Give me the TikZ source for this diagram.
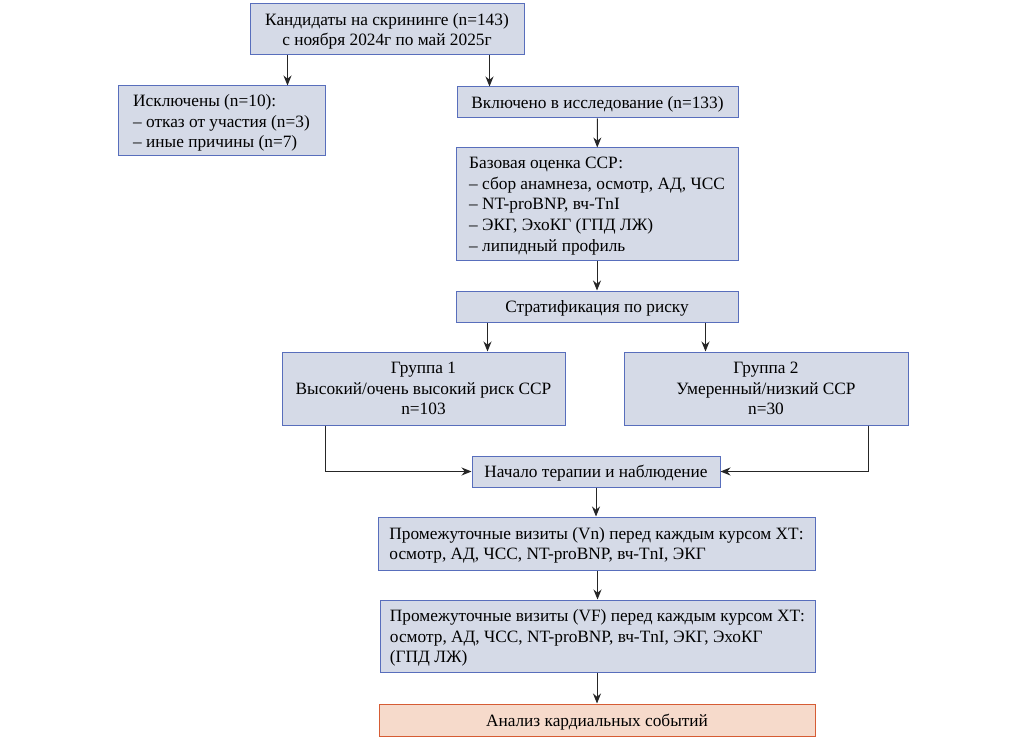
\documentclass[tikz,border=0pt]{standalone}
\usepackage{fontspec}
\setmainfont{Liberation Serif}
\usetikzlibrary{arrows.meta}
\definecolor{boxfill}{RGB}{213,218,231}
\definecolor{boxline}{RGB}{88,110,188}
\definecolor{endfill}{RGB}{246,218,203}
\definecolor{endline}{RGB}{214,92,52}
\begin{document}
\begin{tikzpicture}[x=1pt,y=-1pt,
    every node/.style={font=\fontsize{17.3}{20.7}\selectfont},
    stage/.style={draw=boxline,fill=boxfill,line width=1pt,inner xsep=6pt,inner ysep=0pt,text depth=0pt},
    last/.style={draw=endline,fill=endfill,line width=1pt,inner xsep=6pt,inner ysep=0pt,text depth=0pt},
    arr/.style={-{Stealth[length=10pt,width=8pt]},line width=0.9pt,black!85}]
  \useasboundingbox (0,0) rectangle (1029,741);
  % boxes
  \node[stage,minimum width=274,minimum height=51,align=center] (top) at (387,29.5)
    {Кандидаты на скрининге (n=143)\\с ноября 2024г по май 2025г};
  \node[stage,minimum width=207,minimum height=70,align=left] (excl) at (221.5,121)
    {Исключены (n=10):\\– отказ от участия (n=3)\\– иные причины (n=7)};
  \node[stage,minimum width=281,minimum height=31] (incl) at (597.5,102.5)
    {Включено в исследование (n=133)};
  \node[stage,minimum width=282,minimum height=112,align=left] (base) at (597,204)
    {Базовая оценка ССР:\\– сбор анамнеза, осмотр, АД, ЧСС\\– NT-proBNP, вч-TnI\\– ЭКГ, ЭхоКГ (ГПД ЛЖ)\\– липидный профиль};
  \node[stage,minimum width=282,minimum height=31] (strat) at (597,306.5)
    {Стратификация по риску};
  \node[stage,minimum width=283,minimum height=73,align=center] (g1) at (423.5,388.5)
    {Группа 1\\Высокий/очень высокий риск ССР\\n=103};
  \node[stage,minimum width=284,minimum height=73,align=center] (g2) at (766,388.5)
    {Группа 2\\Умеренный/низкий ССР\\n=30};
  \node[stage,minimum width=248,minimum height=31] (start) at (596,471.5)
    {Начало терапии и наблюдение};
  \node[stage,minimum width=437,minimum height=53,align=left] (vn) at (596.5,543.5)
    {Промежуточные визиты (Vn) перед каждым курсом ХТ:\\осмотр, АД, ЧСС, NT-proBNP, вч-TnI, ЭКГ};
  \node[stage,minimum width=435,minimum height=72,align=left] (vf) at (597.5,636)
    {Промежуточные визиты (VF) перед каждым курсом ХТ:\\осмотр, АД, ЧСС, NT-proBNP, вч-TnI, ЭКГ, ЭхоКГ\\(ГПД ЛЖ)};
  \node[last,minimum width=436,minimum height=32] (res) at (597,720)
    {Анализ кардиальных событий};
  % arrows
  \draw[arr] ([xshift=38pt]top.south west) -- ([xshift=38pt]top.south west |- excl.north);
  \draw[arr] ([xshift=33pt]incl.north west |- top.south) -- ([xshift=33pt]incl.north west);
  \draw[arr] (incl) -- (base);
  \draw[arr] (base) -- (strat);
  \draw[arr] ([xshift=32pt]strat.south west) -- ([xshift=32pt]strat.south west |- g1.north);
  \draw[arr] ([xshift=-33pt]strat.south east) -- ([xshift=-33pt]strat.south east |- g2.north);
  \draw[arr] ([xshift=44pt]g1.south west) |- (start.west);
  \draw[arr] ([xshift=-40pt]g2.south east) |- (start.east);
  \draw[arr] (start) -- (start |- vn.north);
  \draw[arr] (vn.south -| vf.north) -- (vf.north);
  \draw[arr] (vf.south -| res.north) -- (res.north);
\end{tikzpicture}
\end{document}
